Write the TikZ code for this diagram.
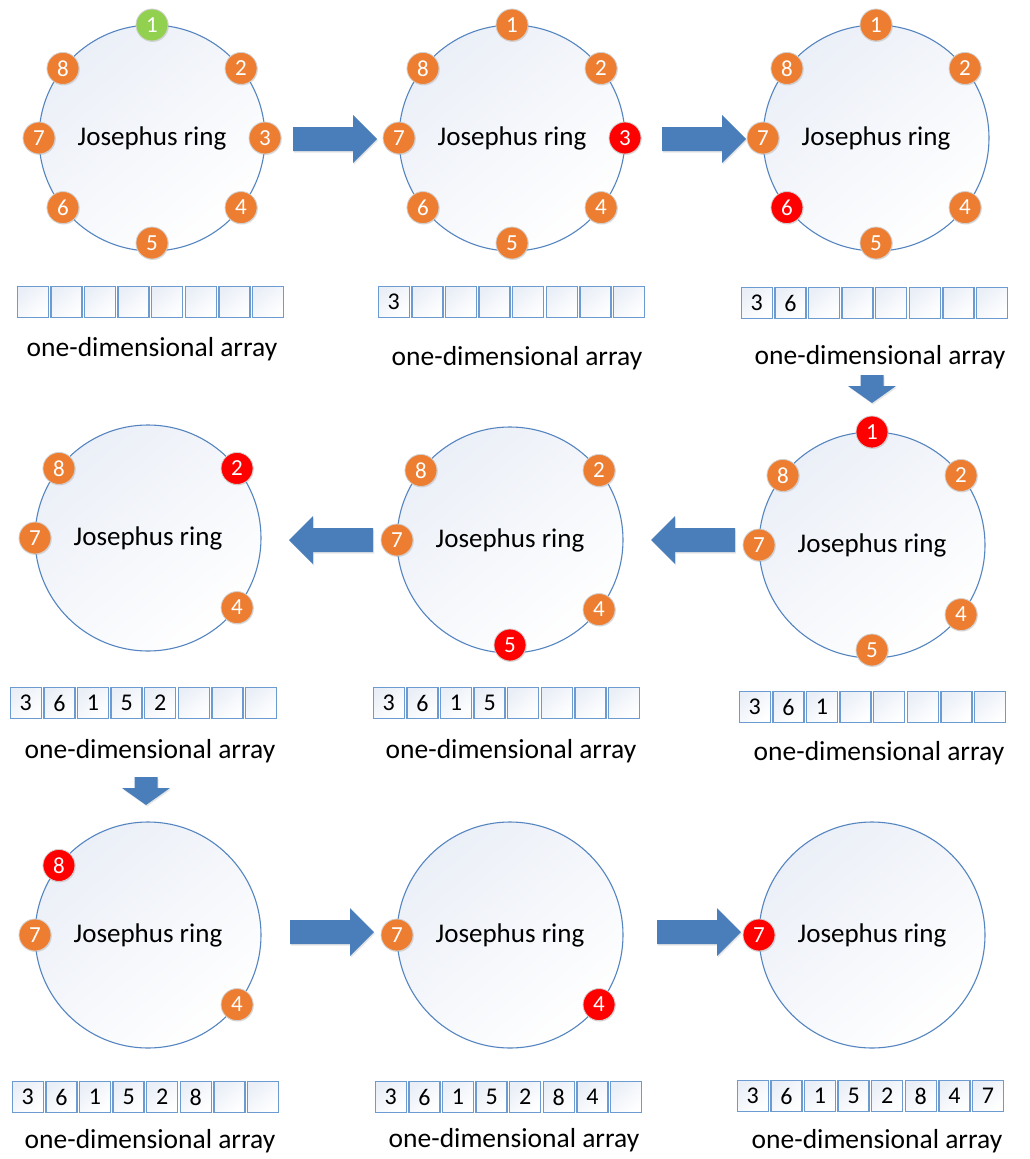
\documentclass[tikz,border=0pt]{standalone}
\usepackage{fontspec}
\setmainfont{Carlito}
\usetikzlibrary{calc,shadows}
\definecolor{orangeP}{HTML}{ED7D31}
\definecolor{redP}{HTML}{FF0000}
\definecolor{greenP}{HTML}{92D050}
\definecolor{arrowBlue}{HTML}{4A7EBB}
\definecolor{ringLine}{HTML}{5585C0}
\definecolor{ringShade}{HTML}{EBEFF7}
\definecolor{cellLine}{HTML}{6C9BD2}
\definecolor{cellShade}{HTML}{EAEFF7}
\newcommand\perso[5]{% name, ring, angle, colour, number
  \node[pers, fill=#4] (#1) at ($(#2)+(#3:113)$) {#5};}
\newcommand\persbot[4]{% name, ring, colour, number (bottom position)
  \node[pers, fill=#3] (#1) at ($(#2)+(-90:105)$) {#4};}
\newcommand\jarray[4]{% name, left x, top y (pixels), entries
  \foreach \v [count=\i from 0] in {#4} {
    \node[cellbox] (#1-\i) at ({#2+15.8+\i*33.6}, {-(#3)-16}) {\v};
  }}
\newcommand\rarrow[2]{% tail x, centre y (pixels)
  \fill[blockarrow] ({#1},{-(#2)+12}) -- ++(60,0) -- ++(0,12) -- ++(24,-24)
     -- ++(-24,-24) -- ++(0,12) -- ++(-60,0) -- cycle;}
\newcommand\larrow[2]{% tail x, centre y (pixels)
  \fill[blockarrow] ({#1},{-(#2)+12}) -- ++(-60,0) -- ++(0,12) -- ++(-24,-24)
     -- ++(24,-24) -- ++(0,12) -- ++(60,0) -- cycle;}
\newcommand\darrow[2]{% centre x, top y (pixels)
  \fill[blockarrow] ({#1-11.5},{-(#2)}) -- ++(23,0) -- ++(0,-11) -- ++(12.5,0)
     -- ++(-24,-17) -- ++(-24,17) -- ++(12.5,0) -- cycle;}
\begin{document}
\begin{tikzpicture}[x=1pt,y=1pt,
  ring/.style={circle, draw=ringLine, line width=1.1pt, minimum size=226pt,
    inner sep=0pt, top color=ringShade, bottom color=white, shading angle=40,
    font=\fontsize{27}{30}\selectfont},
  pers/.style={circle, minimum size=32pt, inner sep=0pt, draw=white!82!black,
    line width=0.8pt, text=white, font=\fontsize{23}{25}\selectfont,
    drop shadow={opacity=0.25, shadow xshift=0.8pt, shadow yshift=-1pt}},
  cellbox/.style={rectangle, draw=cellLine, line width=1.3pt, minimum width=31pt,
    minimum height=31pt, inner sep=0pt, top color=cellShade, bottom color=white,
    shading angle=40, font=\fontsize{24}{26}\selectfont},
  lbl/.style={anchor=base, font=\fontsize{27.5}{30}\selectfont},
  blockarrow/.style={fill=arrowBlue,
    drop shadow={opacity=0.2, shadow xshift=1pt, shadow yshift=-1.5pt}}]
\useasboundingbox[fill=white] (0,0) rectangle (1029,-1159);

% ---------------- row 1 ----------------
\node[ring] (r11) at (152,-138) {Josephus ring};
\perso{r11p1}{r11}{90}{greenP}{1}
\perso{r11p2}{r11}{38}{orangeP}{2}
\perso{r11p3}{r11}{0}{orangeP}{3}
\perso{r11p4}{r11}{-38}{orangeP}{4}
\persbot{r11p5}{r11}{orangeP}{5}
\perso{r11p6}{r11}{218}{orangeP}{6}
\perso{r11p7}{r11}{180}{orangeP}{7}
\perso{r11p8}{r11}{142}{orangeP}{8}

\node[ring] (r12) at (512,-138) {Josephus ring};
\perso{r12p1}{r12}{90}{orangeP}{1}
\perso{r12p2}{r12}{38}{orangeP}{2}
\perso{r12p3}{r12}{0}{redP}{3}
\perso{r12p4}{r12}{-38}{orangeP}{4}
\persbot{r12p5}{r12}{orangeP}{5}
\perso{r12p6}{r12}{218}{orangeP}{6}
\perso{r12p7}{r12}{180}{orangeP}{7}
\perso{r12p8}{r12}{142}{orangeP}{8}

\node[ring] (r13) at (876,-138) {Josephus ring};
\perso{r13p1}{r13}{90}{orangeP}{1}
\perso{r13p2}{r13}{38}{orangeP}{2}
\perso{r13p4}{r13}{-38}{orangeP}{4}
\persbot{r13p5}{r13}{orangeP}{5}
\perso{r13p6}{r13}{218}{redP}{6}
\perso{r13p7}{r13}{180}{orangeP}{7}
\perso{r13p8}{r13}{142}{orangeP}{8}

\jarray{a11}{17}{286}{{},{},{},{},{},{},{},{}}
\jarray{a12}{378}{286}{3,{},{},{},{},{},{},{}}
\jarray{a13}{741}{287}{3,6,{},{},{},{},{},{}}
\node[lbl] (l11) at (152,-356) {one-dimensional array};
\node[lbl] (l12) at (517,-365) {one-dimensional array};
\node[lbl] (l13) at (880,-364) {one-dimensional array};

\rarrow{293}{139}
\rarrow{662}{139}
\darrow{872}{375}

% ---------------- row 2 ----------------
\node[ring] (r23) at (872,-545) {Josephus ring};
\perso{r23p1}{r23}{90}{redP}{1}
\perso{r23p2}{r23}{38}{orangeP}{2}
\perso{r23p4}{r23}{-38}{orangeP}{4}
\persbot{r23p5}{r23}{orangeP}{5}
\perso{r23p7}{r23}{180}{orangeP}{7}
\perso{r23p8}{r23}{142}{orangeP}{8}

\node[ring] (r22) at (510,-540) {Josephus ring};
\perso{r22p2}{r22}{38}{orangeP}{2}
\perso{r22p4}{r22}{-38}{orangeP}{4}
\persbot{r22p5}{r22}{redP}{5}
\perso{r22p7}{r22}{180}{orangeP}{7}
\perso{r22p8}{r22}{142}{orangeP}{8}

\node[ring] (r21) at (148,-538) {Josephus ring};
\perso{r21p2}{r21}{38}{redP}{2}
\perso{r21p4}{r21}{-38}{orangeP}{4}
\perso{r21p7}{r21}{180}{orangeP}{7}
\perso{r21p8}{r21}{142}{orangeP}{8}

\jarray{a21}{10}{687}{3,6,1,5,2,{},{},{}}
\jarray{a22}{373}{687}{3,6,1,5,{},{},{},{}}
\jarray{a23}{739}{691}{3,6,1,{},{},{},{},{}}
\node[lbl] (l21) at (150,-758) {one-dimensional array};
\node[lbl] (l22) at (511,-758) {one-dimensional array};
\node[lbl] (l23) at (879,-760) {one-dimensional array};

\larrow{735}{540}
\larrow{373}{540}
\darrow{146}{777}

% ---------------- row 3 ----------------
\node[ring] (r31) at (148,-935) {Josephus ring};
\perso{r31p4}{r31}{-38}{orangeP}{4}
\perso{r31p7}{r31}{180}{orangeP}{7}
\perso{r31p8}{r31}{142}{redP}{8}

\node[ring] (r32) at (510,-935) {Josephus ring};
\perso{r32p4}{r32}{-38}{redP}{4}
\perso{r32p7}{r32}{180}{orangeP}{7}

\node[ring] (r33) at (872,-935) {Josephus ring};
\perso{r33p7}{r33}{180}{redP}{7}

\jarray{a31}{12}{1081}{3,6,1,5,2,8,{},{}}
\jarray{a32}{375}{1081}{3,6,1,5,2,8,4,{}}
\jarray{a33}{737}{1080}{3,6,1,5,2,8,4,7}
\node[lbl] (l31) at (150,-1148) {one-dimensional array};
\node[lbl] (l32) at (514,-1147) {one-dimensional array};
\node[lbl] (l33) at (877,-1148) {one-dimensional array};

\rarrow{290}{932}
\rarrow{657}{932}
\end{tikzpicture}
\end{document}
